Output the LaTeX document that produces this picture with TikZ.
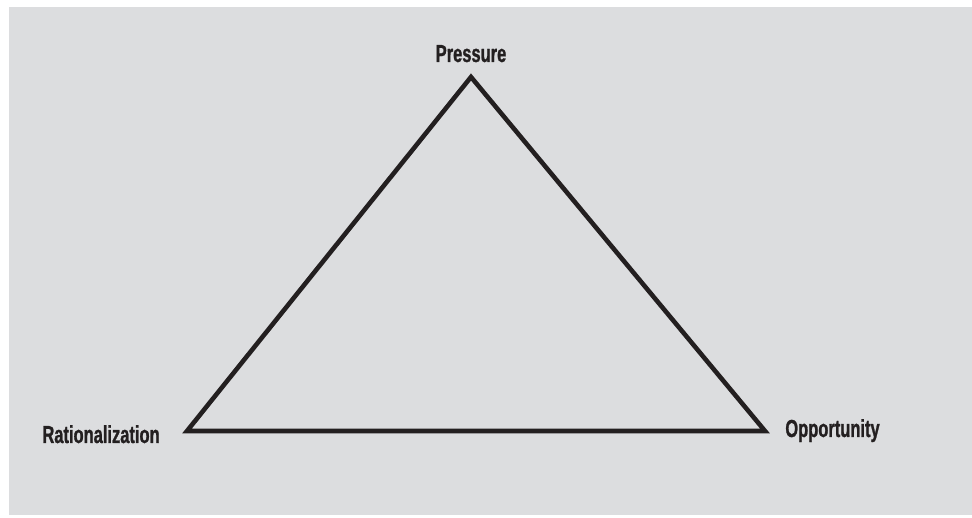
\documentclass[tikz,border=0pt]{standalone}
\usepackage{fontspec}
\usepackage{xcolor}
\usetikzlibrary{positioning}
\newfontfamily\condfont[FakeStretch=0.67,FakeBold=1]{Liberation Sans Bold}
\definecolor{panelgray}{RGB}{220,221,223}
\definecolor{inkblack}{RGB}{35,31,32}

\begin{document}
\begin{tikzpicture}[lbl/.style={font=\condfont\fontsize{14}{16}\selectfont,text=inkblack,inner sep=0pt},edge/.style={draw=inkblack,line width=2.6pt,line join=miter}]
\useasboundingbox (0,0) rectangle (19.44,10.34);
\fill[panelgray] (0.18,0.04) rectangle (19.44,10.2);
\coordinate (pressure) at (9.42,8.80);
\coordinate (rational) at (3.74,1.72);
\coordinate (opport) at (15.30,1.72);
\draw[edge] (pressure) -- (opport) -- (rational) -- cycle;
\node[lbl,anchor=base] (ptext) at (9.42,9.10) {Pressure};
\node[lbl,anchor=base east] (rtext) at (3.20,1.48) {Rationalization};
\node[lbl,anchor=base west] (otext) at (15.70,1.60) {Opportunity};
\end{tikzpicture}
\end{document}
